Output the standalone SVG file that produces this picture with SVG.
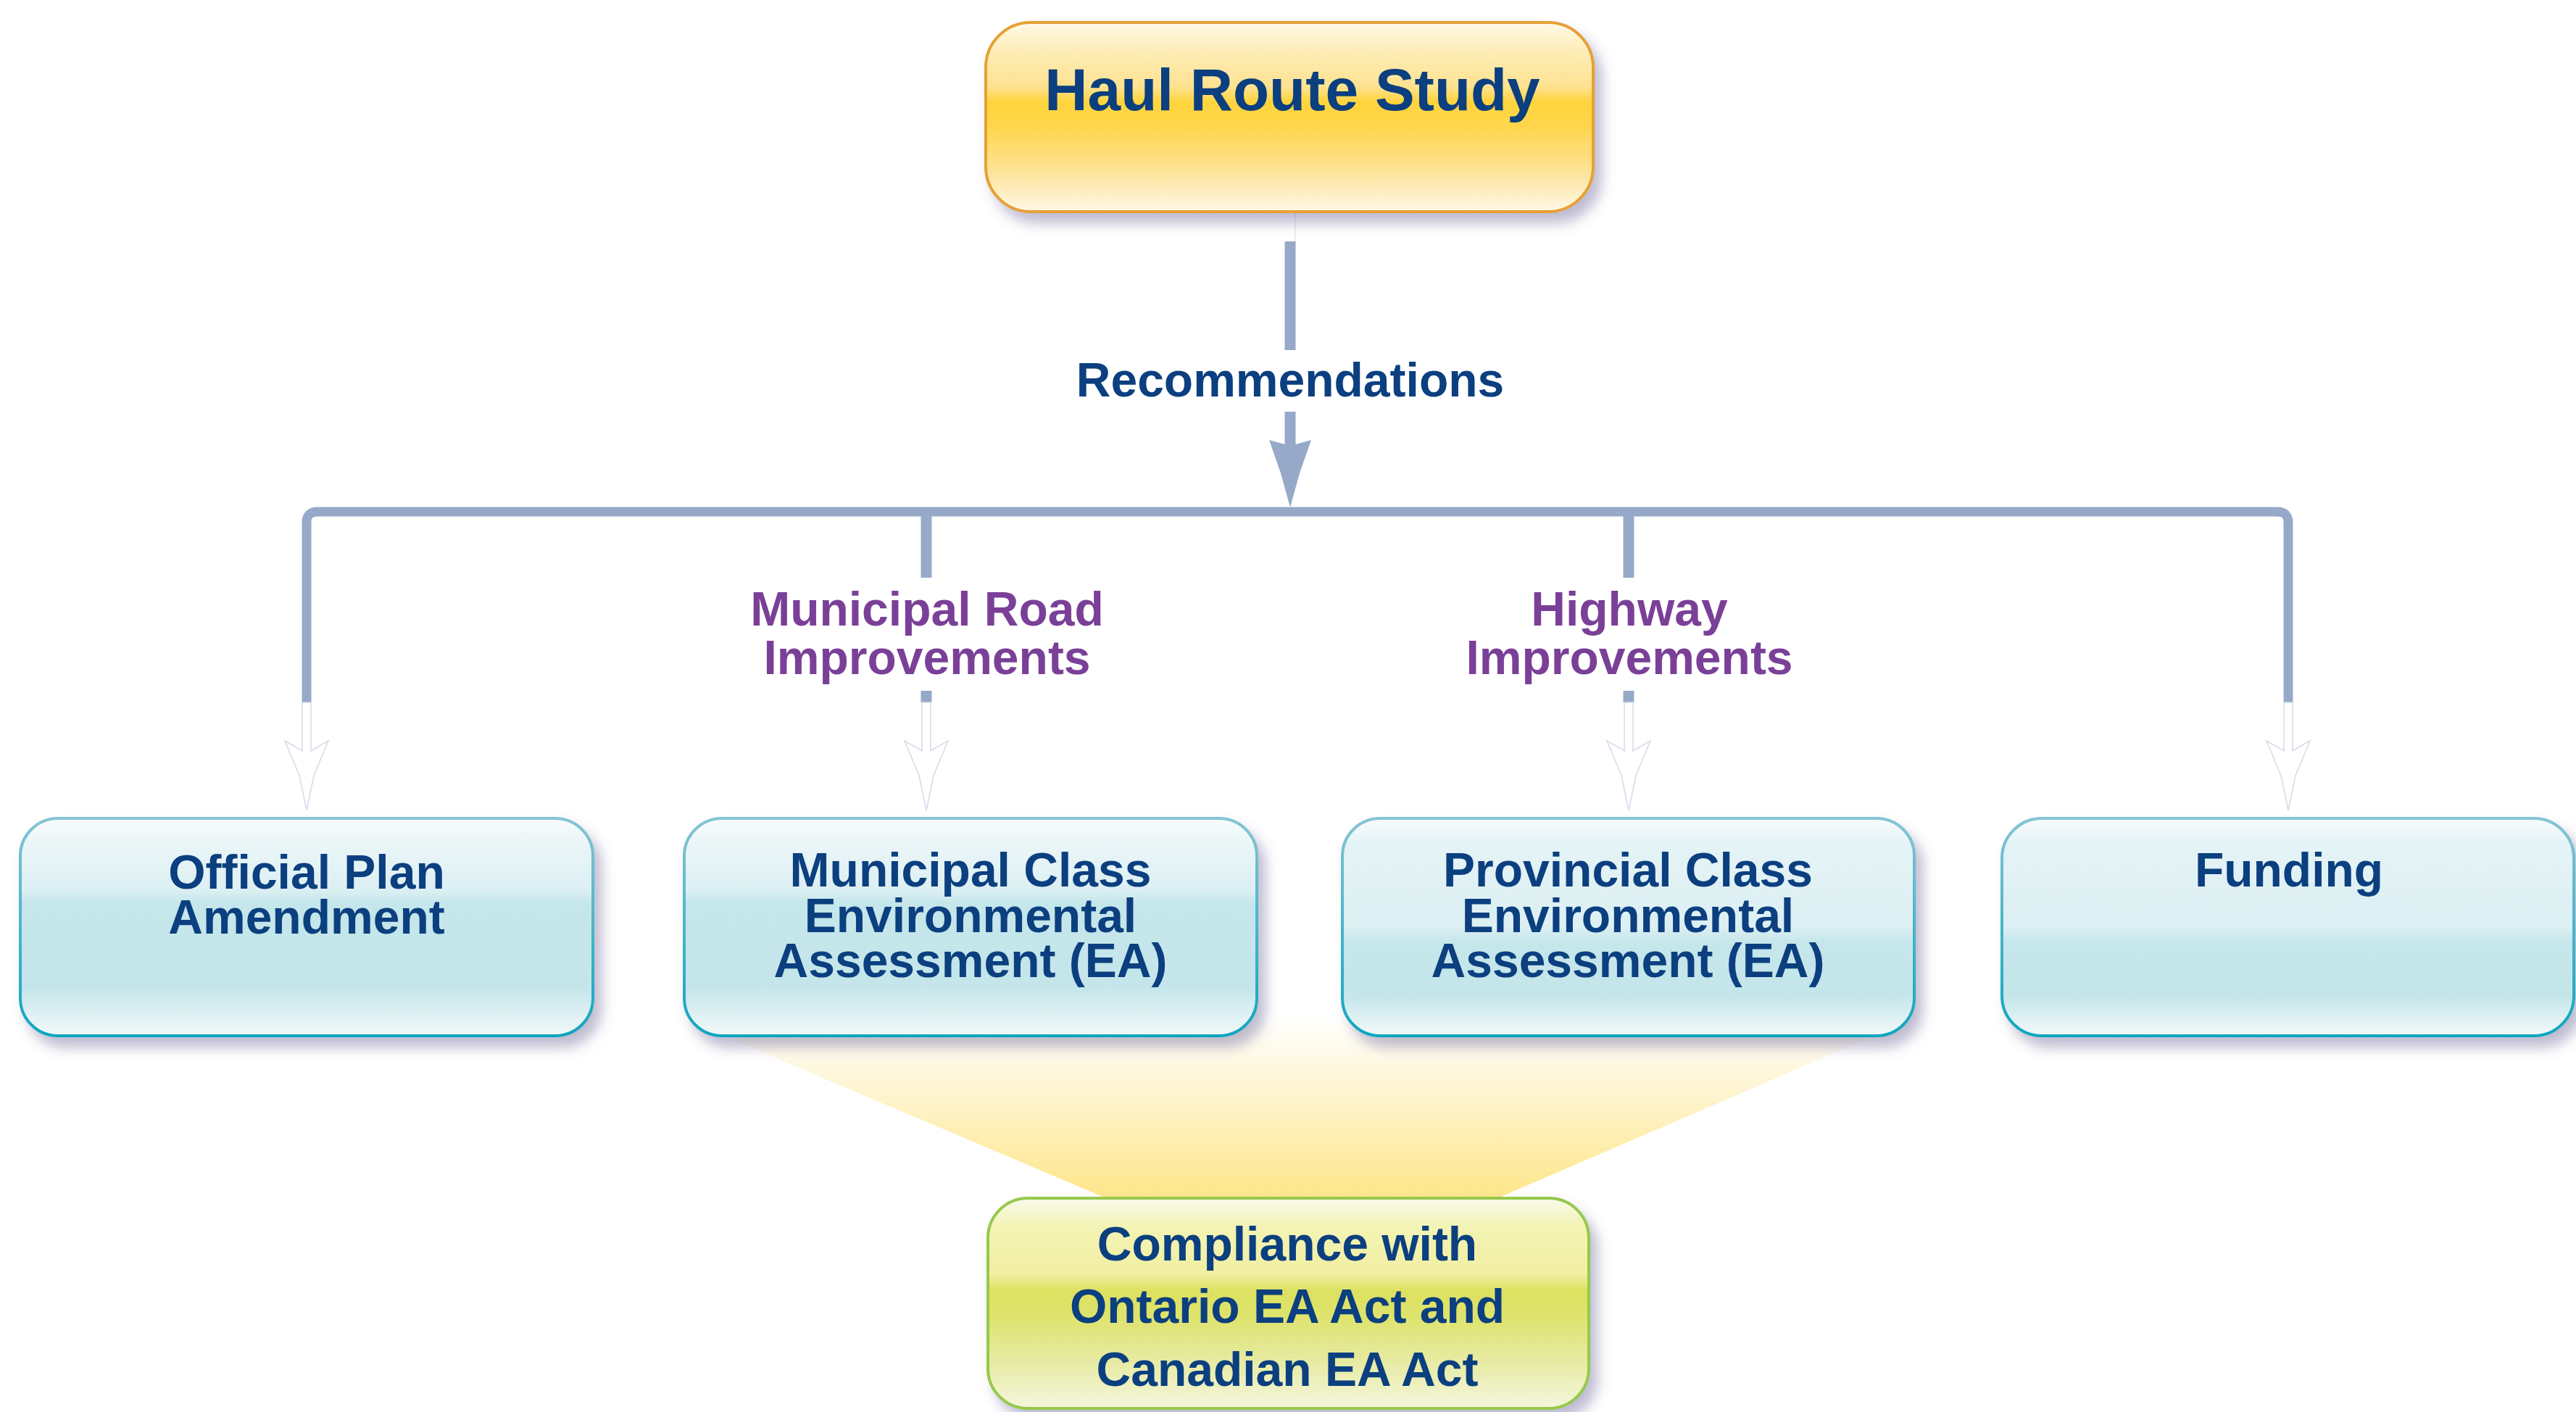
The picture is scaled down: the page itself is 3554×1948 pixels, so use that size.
<svg xmlns="http://www.w3.org/2000/svg" width="3554" height="1948" viewBox="0 0 3554 1948">
<defs>
<style>
.t{font-family:"Liberation Sans",Arial,sans-serif;font-weight:bold;fill:#0B3F7F;text-anchor:middle}
.p{font-family:"Liberation Sans",Arial,sans-serif;font-weight:bold;fill:#7A4098;text-anchor:middle;font-size:66px}
.conn{fill:none;stroke:#97A9C9;stroke-width:13}
.wa{fill:#FFFFFF;stroke:#D6DAEA;stroke-width:1.5}
.blueA{fill:url(#gBlueA);stroke:url(#gBlueStroke);stroke-width:4}
.blueB{fill:url(#gBlueB);stroke:url(#gBlueStroke);stroke-width:4}
</style>
<linearGradient id="gBlueA" x1="0" y1="0" x2="0" y2="1">
<stop offset="0" stop-color="#F8FBFC"/>
<stop offset="0.12" stop-color="#EAF6F8"/>
<stop offset="0.33" stop-color="#DCEFF3"/>
<stop offset="0.39" stop-color="#C5E6EA"/>
<stop offset="0.78" stop-color="#C4E6EA"/>
<stop offset="0.92" stop-color="#E2F2F5"/>
<stop offset="1" stop-color="#F2F9FA"/>
</linearGradient>
<linearGradient id="gBlueB" x1="0" y1="0" x2="0" y2="1">
<stop offset="0" stop-color="#F8FBFC"/>
<stop offset="0.12" stop-color="#E4F3F6"/>
<stop offset="0.50" stop-color="#DCEFF3"/>
<stop offset="0.57" stop-color="#C5E6EA"/>
<stop offset="0.82" stop-color="#C4E6EA"/>
<stop offset="0.94" stop-color="#E4F3F5"/>
<stop offset="1" stop-color="#F2F9FA"/>
</linearGradient>
<linearGradient id="gBlueStroke" x1="0" y1="0" x2="0" y2="1">
<stop offset="0" stop-color="#86C4D4"/>
<stop offset="1" stop-color="#0FA6BF"/>
</linearGradient>
<linearGradient id="gHaul" x1="0" y1="0" x2="0" y2="1">
<stop offset="0" stop-color="#FFF9E6"/>
<stop offset="0.15" stop-color="#FEEDB8"/>
<stop offset="0.34" stop-color="#FEE290"/>
<stop offset="0.42" stop-color="#FFD43C"/>
<stop offset="0.55" stop-color="#FFD64C"/>
<stop offset="0.75" stop-color="#FDE08C"/>
<stop offset="0.92" stop-color="#FEF0C8"/>
<stop offset="1" stop-color="#FFF8E8"/>
</linearGradient>
<linearGradient id="gComp" x1="0" y1="0" x2="0" y2="1">
<stop offset="0" stop-color="#F8FAEA"/>
<stop offset="0.14" stop-color="#F3F3B4"/>
<stop offset="0.36" stop-color="#F2EFA2"/>
<stop offset="0.44" stop-color="#DDE160"/>
<stop offset="0.56" stop-color="#DEE36C"/>
<stop offset="0.76" stop-color="#E6EA9E"/>
<stop offset="1" stop-color="#F4F6DC"/>
</linearGradient>
<linearGradient id="gBeam" gradientUnits="userSpaceOnUse" x1="0" y1="1400" x2="0" y2="1653">
<stop offset="0" stop-color="#FFFFFF"/>
<stop offset="0.2" stop-color="#FFFAEA"/>
<stop offset="1" stop-color="#FEE68A"/>
</linearGradient>
<filter id="sh" x="-10%" y="-20%" width="125%" height="150%">
<feGaussianBlur in="SourceAlpha" stdDeviation="9"/>
<feOffset dx="10" dy="14" result="b"/>
<feFlood flood-color="#6E6898" flood-opacity="0.45"/>
<feComposite in2="b" operator="in"/>
<feMerge><feMergeNode/><feMergeNode in="SourceGraphic"/></feMerge>
</filter>
<path id="wArrow" class="wa" d="M -6 969 V 1035.6 L -30 1022 L -10 1070 L 0 1118 L 10 1070 L 30 1022 L 6 1035.6 V 969 Z"/>
</defs>
<rect width="3554" height="1948" fill="#FFFFFF"/>

<polygon id="beam" points="930,1400 2653,1400 2066,1653 1526,1653" fill="url(#gBeam)"/>

<g id="connectors">
<line x1="1787" y1="293" x2="1787" y2="333" stroke="#E4E4EE" stroke-width="1.5"/>
<line class="conn" x1="1780" y1="333" x2="1780" y2="483" style="stroke-width:15"/>
<path d="M 1772.5 568 V 613 L 1751 607 L 1767 653 L 1780 700 L 1793 653 L 1809 607 L 1787.5 613 V 568 Z" fill="#97A9C9"/>
<path class="conn" d="M 423 969 V 721 Q 423 706 438 706 H 3142 Q 3157 706 3157 721 V 969"/>
<path class="conn" d="M 1278 706 V 797 M 1278 953 V 969 M 2247 706 V 797 M 2247 953 V 969" style="stroke-width:15"/>
<use href="#wArrow" transform="translate(423,0)"/>
<use href="#wArrow" transform="translate(1278,0)"/>
<use href="#wArrow" transform="translate(2247,0)"/>
<use href="#wArrow" transform="translate(3157,0)"/>
<text class="t" x="1780" y="547" font-size="66">Recommendations</text>
<text class="p" x="1279" y="863">Municipal Road<tspan x="1279" y="930">Improvements</tspan></text>
<text class="p" x="2248" y="863">Highway<tspan x="2248" y="930">Improvements</tspan></text>
</g>

<g id="haul-route-study">
<rect x="1360" y="31" width="838" height="261" rx="62" ry="62" fill="url(#gHaul)" stroke="#E6A035" stroke-width="4" filter="url(#sh)"/>
<text class="t" x="1783" y="152" font-size="82">Haul Route Study</text>
</g>

<g id="official-plan-amendment">
<rect x="28" y="1129" width="790" height="300" rx="52" ry="52" class="blueA" filter="url(#sh)"/>
<text class="t" x="423" y="1226" font-size="66">Official Plan<tspan x="423" y="1288">Amendment</tspan></text>
</g>

<g id="municipal-class-ea">
<rect x="944" y="1129" width="790" height="300" rx="52" ry="52" class="blueA" filter="url(#sh)"/>
<text class="t" x="1339" y="1223" font-size="66">Municipal Class<tspan x="1339" y="1286">Environmental</tspan><tspan x="1339" y="1348">Assessment (EA)</tspan></text>
</g>

<g id="provincial-class-ea">
<rect x="1852" y="1129" width="789" height="300" rx="52" ry="52" class="blueB" filter="url(#sh)"/>
<text class="t" x="2246" y="1223" font-size="66">Provincial Class<tspan x="2246" y="1286">Environmental</tspan><tspan x="2246" y="1348">Assessment (EA)</tspan></text>
</g>

<g id="funding">
<rect x="2762" y="1129" width="789" height="300" rx="55" ry="55" class="blueB" filter="url(#sh)"/>
<text class="t" x="3158" y="1223" font-size="66">Funding</text>
</g>

<g id="compliance">
<rect x="1363" y="1653" width="829" height="290" rx="55" ry="55" fill="url(#gComp)" stroke="#97C84C" stroke-width="4" filter="url(#sh)"/>
<text class="t" x="1776" y="1739" font-size="66">Compliance with<tspan x="1776" y="1825">Ontario EA Act and</tspan><tspan x="1776" y="1912">Canadian EA Act</tspan></text>
</g>
</svg>
